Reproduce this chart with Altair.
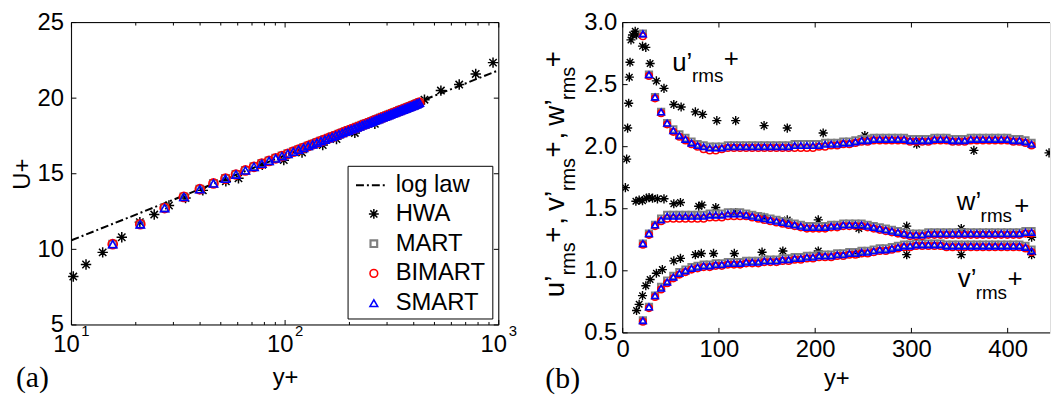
import altair as alt
import pandas as pd

FONT = "Liberation Sans"
SERIF = "Liberation Serif"
STAR = "M-1,0L1,0M0,-1L0,1M-0.71,-0.71L0.71,0.71M-0.71,0.71L0.71,-0.71"

# ---------------- panel (a): mean velocity ----------------
loglaw_yp = [10, 1000]
loglaw_U = [10.6, 21.85]

hwa_yp_a = [10.2, 11.7, 14.0, 17.2, 20.9, 24.4, 28.6, 34.2, 41.2, 52.8, 60.5, 78.2, 98.6,
            120, 150, 174, 212, 263, 449, 536, 653, 780, 940]
hwa_U = [8.2, 9.0, 9.8, 10.8, 11.8, 12.3, 12.9, 13.4, 13.9, 14.5, 14.7, 15.6, 15.9,
         16.4, 16.9, 17.3, 17.7, 18.3, 19.9, 20.5, 20.9, 21.6, 22.35]

piv_yp_b = [21.0, 27.3, 33.6, 39.9, 46.2, 52.6, 58.9, 65.2, 71.5, 77.8, 84.1, 90.4, 96.7,
            103.0, 109.3, 115.6, 122.0, 128.3, 134.6, 140.9, 147.2, 153.5, 159.8, 166.1,
            172.4, 178.7, 185.1, 191.4, 197.7, 204.0, 210.3, 216.6, 222.9, 229.2, 235.5,
            241.8, 248.2, 254.5, 260.8, 267.1, 273.4, 279.7, 286.0, 292.3, 298.6, 304.9,
            311.2, 317.6, 323.9, 330.2, 336.5, 342.8, 349.1, 355.4, 361.7, 368.0, 374.3,
            380.7, 387.0, 393.3, 399.6, 405.9, 412.2, 418.5, 424.8]
piv_yp_a = [15.6] + piv_yp_b
piv_U = [10.34, 11.66, 12.73, 13.47, 13.98, 14.36, 14.68, 14.95, 15.22, 15.46, 15.67, 15.85,
         16.02, 16.17, 16.32, 16.46, 16.59, 16.72, 16.84, 16.95, 17.06, 17.16, 17.26, 17.35,
         17.44, 17.53, 17.62, 17.70, 17.78, 17.86, 17.93, 18.00, 18.07, 18.14, 18.21, 18.27,
         18.33, 18.39, 18.45, 18.51, 18.57, 18.62, 18.68, 18.73, 18.78, 18.83, 18.88, 18.93,
         18.98, 19.03, 19.07, 19.12, 19.16, 19.21, 19.25, 19.29, 19.33, 19.37, 19.41, 19.45,
         19.49, 19.53, 19.57, 19.61, 19.65, 19.70]

# ---------------- panel (b): rms fluctuations ----------------
u_smart = [2.91, 2.58, 2.40, 2.28, 2.19, 2.13, 2.09, 2.06, 2.03, 2.01, 2.00, 1.99, 1.99, 1.99,
           2.00, 2.00, 2.00, 2.00, 2.00, 2.00, 2.00, 2.00, 2.00, 2.00, 2.00, 2.01, 2.01, 2.01,
           2.01, 2.01, 2.02, 2.02, 2.02, 2.03, 2.03, 2.04, 2.05, 2.05, 2.06, 2.06, 2.06, 2.06,
           2.06, 2.06, 2.05, 2.05, 2.05, 2.05, 2.06, 2.06, 2.06, 2.05, 2.05, 2.05, 2.06, 2.06,
           2.06, 2.06, 2.06, 2.06, 2.06, 2.05, 2.05, 2.04, 2.02]
u_mart = [2.91, 2.58, 2.40, 2.28, 2.19, 2.14, 2.10, 2.07, 2.04, 2.02, 2.01, 2.00, 2.00, 2.00,
          2.01, 2.01, 2.01, 2.01, 2.01, 2.01, 2.01, 2.01, 2.01, 2.01, 2.01, 2.02, 2.02, 2.02,
          2.02, 2.02, 2.03, 2.03, 2.03, 2.04, 2.04, 2.05, 2.06, 2.06, 2.07, 2.07, 2.07, 2.07,
          2.07, 2.07, 2.06, 2.06, 2.06, 2.06, 2.07, 2.07, 2.07, 2.06, 2.06, 2.06, 2.07, 2.07,
          2.07, 2.07, 2.07, 2.07, 2.07, 2.06, 2.06, 2.05, 2.03]
u_bimart = [2.89, 2.57, 2.39, 2.27, 2.18, 2.12, 2.08, 2.05, 2.02, 2.00, 1.98, 1.97, 1.97, 1.98,
            1.99, 1.99, 1.99, 1.99, 1.99, 1.99, 1.99, 1.99, 1.99, 1.99, 1.99, 1.99, 1.99, 1.99,
            1.99, 2.00, 2.00, 2.01, 2.01, 2.02, 2.02, 2.03, 2.04, 2.04, 2.05, 2.05, 2.05, 2.05,
            2.05, 2.05, 2.04, 2.04, 2.04, 2.04, 2.05, 2.05, 2.05, 2.04, 2.04, 2.04, 2.05, 2.05,
            2.05, 2.05, 2.05, 2.05, 2.05, 2.04, 2.04, 2.03, 2.01]
w_smart = [1.22, 1.30, 1.37, 1.41, 1.44, 1.44, 1.44, 1.44, 1.44, 1.44, 1.44, 1.45, 1.45, 1.45,
           1.46, 1.46, 1.46, 1.45, 1.44, 1.43, 1.42, 1.41, 1.40, 1.39, 1.38, 1.37, 1.36, 1.35,
           1.35, 1.35, 1.35, 1.36, 1.36, 1.37, 1.37, 1.37, 1.37, 1.36, 1.35, 1.34, 1.33, 1.32,
           1.31, 1.30, 1.29, 1.29, 1.29, 1.30, 1.30, 1.30, 1.30, 1.30, 1.30, 1.30, 1.30, 1.30,
           1.30, 1.30, 1.30, 1.30, 1.30, 1.30, 1.30, 1.31, 1.31]
w_mart = [1.22, 1.30, 1.37, 1.42, 1.45, 1.45, 1.45, 1.45, 1.45, 1.45, 1.45, 1.46, 1.46, 1.46,
          1.47, 1.47, 1.47, 1.46, 1.45, 1.44, 1.43, 1.42, 1.41, 1.40, 1.39, 1.38, 1.37, 1.36,
          1.36, 1.36, 1.36, 1.37, 1.37, 1.38, 1.38, 1.38, 1.38, 1.37, 1.36, 1.35, 1.34, 1.33,
          1.32, 1.31, 1.30, 1.30, 1.30, 1.31, 1.31, 1.31, 1.31, 1.31, 1.31, 1.31, 1.31, 1.31,
          1.31, 1.31, 1.31, 1.31, 1.31, 1.31, 1.31, 1.32, 1.32]
w_bimart = [1.21, 1.29, 1.36, 1.40, 1.42, 1.42, 1.42, 1.42, 1.42, 1.42, 1.42, 1.43, 1.43, 1.43,
            1.44, 1.44, 1.44, 1.44, 1.43, 1.42, 1.41, 1.40, 1.39, 1.38, 1.37, 1.36, 1.35, 1.34,
            1.34, 1.34, 1.34, 1.35, 1.35, 1.36, 1.36, 1.36, 1.36, 1.35, 1.34, 1.33, 1.32, 1.31,
            1.30, 1.29, 1.28, 1.28, 1.28, 1.29, 1.29, 1.29, 1.29, 1.29, 1.29, 1.29, 1.29, 1.29,
            1.29, 1.29, 1.29, 1.29, 1.29, 1.29, 1.29, 1.30, 1.30]
v_smart = [0.60, 0.71, 0.80, 0.86, 0.91, 0.95, 0.98, 1.00, 1.02, 1.03, 1.04, 1.04, 1.05, 1.05,
           1.06, 1.06, 1.06, 1.07, 1.07, 1.07, 1.08, 1.08, 1.08, 1.09, 1.09, 1.10, 1.10, 1.11,
           1.11, 1.12, 1.12, 1.12, 1.13, 1.13, 1.14, 1.14, 1.15, 1.15, 1.16, 1.17, 1.17, 1.18,
           1.19, 1.20, 1.20, 1.21, 1.21, 1.21, 1.21, 1.21, 1.20, 1.20, 1.20, 1.20, 1.20, 1.20,
           1.20, 1.20, 1.20, 1.20, 1.20, 1.20, 1.20, 1.19, 1.16]
v_mart = [0.60, 0.71, 0.80, 0.87, 0.92, 0.96, 0.99, 1.01, 1.03, 1.04, 1.05, 1.05, 1.06, 1.06,
          1.07, 1.07, 1.07, 1.08, 1.08, 1.08, 1.09, 1.09, 1.09, 1.10, 1.10, 1.11, 1.11, 1.12,
          1.12, 1.13, 1.13, 1.13, 1.14, 1.14, 1.15, 1.15, 1.16, 1.16, 1.17, 1.18, 1.18, 1.19,
          1.20, 1.21, 1.21, 1.22, 1.22, 1.22, 1.22, 1.22, 1.21, 1.21, 1.21, 1.21, 1.21, 1.21,
          1.21, 1.21, 1.21, 1.21, 1.21, 1.21, 1.21, 1.20, 1.17]
v_bimart = [0.59, 0.70, 0.79, 0.85, 0.90, 0.94, 0.97, 0.99, 1.01, 1.02, 1.03, 1.03, 1.04, 1.04,
            1.05, 1.05, 1.05, 1.06, 1.06, 1.06, 1.07, 1.07, 1.07, 1.08, 1.08, 1.09, 1.09, 1.10,
            1.10, 1.11, 1.11, 1.11, 1.12, 1.12, 1.13, 1.13, 1.14, 1.14, 1.15, 1.16, 1.16, 1.17,
            1.18, 1.19, 1.19, 1.20, 1.20, 1.20, 1.20, 1.20, 1.19, 1.19, 1.19, 1.19, 1.19, 1.19,
            1.19, 1.19, 1.19, 1.19, 1.19, 1.19, 1.19, 1.18, 1.15]

hwa_u_yp = [2.8, 4.1, 5.1, 6.2, 6.9, 7.6, 8.6, 10.2, 13.0, 14.4, 20.6, 24.0, 28.5, 35.0, 42.9,
            53.1, 60.7, 75.5, 83.0, 97.8, 117.4, 146.9, 171.0, 208.3, 251.6, 305.5, 364.9, 443.0]
hwa_u = [1.67, 1.90, 2.15, 2.35, 2.56, 2.68, 2.86, 2.90, 2.93, 2.90, 2.81, 2.80, 2.67, 2.53, 2.47,
         2.34, 2.32, 2.28, 2.26, 2.21, 2.21, 2.17, 2.15, 2.11, 2.09, 2.02, 1.97, 1.95]
hwa_w_yp = [13.7, 17.1, 20.6, 24.7, 27.4, 31.0, 36.1, 42.9, 53.1, 60.0, 79.0, 82.3, 96.7,
            117.4, 146.9, 171.0, 203.2, 245.4, 295.1, 351.8, 424.9]
hwa_w = [1.56, 1.57, 1.565, 1.585, 1.59, 1.585, 1.58, 1.58, 1.54, 1.55, 1.52, 1.53, 1.51,
         1.47, 1.43, 1.41, 1.41, 1.34, 1.36, 1.34, 1.27]
hwa_v_yp = [14.4, 17.1, 20.6, 24.0, 28.5, 35.0, 41.2, 53.1, 60.0, 75.5, 81.7, 94.4, 116.0,
            144.8, 166.4, 203.2, 245.4, 295.1, 351.8, 424.9]
hwa_v = [0.68, 0.73, 0.80, 0.88, 0.93, 0.98, 1.01, 1.08, 1.10, 1.13, 1.14, 1.14, 1.14,
         1.15, 1.16, 1.16, 1.14, 1.13, 1.13, 1.13]

# ---------------- ticks / labels ----------------
xticks_a = [10, 100, 1000]
xexp_a = ["1", "2", "3"]
xminor_a = [20, 30, 40, 50, 60, 70, 80, 90, 200, 300, 400, 500, 600, 700, 800, 900]
yticks_a = [5, 10, 15, 20, 25]
xticks_b = [0, 100, 200, 300, 400]
yticks_b = [0.5, 1.0, 1.5, 2.0, 2.5, 3.0]
legend_labels = ["log law", "HWA", "MART", "BIMART", "SMART"]

for lst in (u_smart, u_mart, u_bimart, v_smart, v_mart, v_bimart, w_smart, w_mart, w_bimart):
    assert len(lst) == len(piv_yp_b)
assert len(piv_U) == len(piv_yp_a)

# ---------------- layout constants ----------------
W = 431
HA = 305
HB = 313
FS = 24
dummy = pd.DataFrame({"k": [0]})


def ax(**kw):
    base = dict(grid=False, ticks=False, domain=False, labelFont=FONT, labelFontSize=FS,
                labelColor="black", titleFont=FONT, titleFontSize=FS, titleFontWeight="normal",
                titleColor="black", labelFlush=False)
    base.update(kw)
    return alt.Axis(**base)


def txt(s, x, y, size, font=FONT, angle=0, align="left", baseline="alphabetic"):
    return alt.Chart(dummy).mark_text(font=font, fontSize=size, angle=angle, align=align,
                                      baseline=baseline, color="black").encode(
        x=alt.value(x), y=alt.value(y), text=alt.value(s))


def rule(x, x2, y, y2, sw=1, dash=None):
    kw = dict(color="black", strokeWidth=sw)
    if dash is not None:
        kw["strokeDash"] = dash
    return alt.Chart(dummy).mark_rule(**kw).encode(
        x=alt.value(x), x2=alt.value(x2), y=alt.value(y), y2=alt.value(y2))


def pts(df, shape, color, size, sw, x, y, clip=False):
    return alt.Chart(df).mark_point(shape=shape, filled=False, color=color, size=size,
                                    strokeWidth=sw, opacity=1, clip=clip).encode(x=x, y=y)


# =============== panel (a) ===============
xa = alt.X("yp:Q", scale=alt.Scale(type="log", domain=[10, 1000], nice=False),
           axis=ax(labels=False, title="y+", titleY=53, titleBaseline="middle"))
ya = alt.Y("U:Q", scale=alt.Scale(domain=[5, 25], nice=False, zero=False),
           axis=ax(values=yticks_a, format="d", labelPadding=8, title="U+", titleX=-49,
                   titleY=HA / 2, titleAngle=270, titleAlign="center", titleBaseline="middle"))

df_loglaw = pd.DataFrame({"yp": loglaw_yp, "U": loglaw_U})
df_hwa_a = pd.DataFrame({"yp": hwa_yp_a, "U": hwa_U})
df_piv_a = pd.DataFrame({"yp": piv_yp_a, "U": piv_U})
df_xt_a = pd.DataFrame({"yp": xticks_a, "exp": xexp_a})
df_xm_a = pd.DataFrame({"yp": xminor_a})
df_yt_a = pd.DataFrame({"U": yticks_a})

a_layers = [
    alt.Chart(df_loglaw).mark_line(color="black", strokeWidth=2, strokeDash=[8, 3, 2, 3]).encode(x=xa, y=ya),
    pts(df_hwa_a, STAR, "black", 110, 1.5, xa, ya),
    pts(df_piv_a, "square", "#808080", 50, 2, xa, ya),
    pts(df_piv_a, "circle", "red", 85, 1.6, xa, ya),
    pts(df_piv_a, "triangle-up", "blue", 70, 1.6, xa, ya),
    # inward ticks
    alt.Chart(df_xt_a).mark_rule(color="black").encode(x=xa, y=alt.value(HA), y2=alt.value(HA - 5)),
    alt.Chart(df_xt_a).mark_rule(color="black").encode(x=xa, y=alt.value(0), y2=alt.value(5)),
    alt.Chart(df_xm_a).mark_rule(color="black").encode(x=xa, y=alt.value(HA), y2=alt.value(HA - 3)),
    alt.Chart(df_xm_a).mark_rule(color="black").encode(x=xa, y=alt.value(0), y2=alt.value(3)),
    alt.Chart(df_yt_a).mark_rule(color="black").encode(y=ya, x=alt.value(0), x2=alt.value(5)),
    alt.Chart(df_yt_a).mark_rule(color="black").encode(y=ya, x=alt.value(W), x2=alt.value(W - 5)),
    # log-axis labels 10^n
    alt.Chart(df_xt_a).mark_text(font=FONT, fontSize=FS, align="center", baseline="alphabetic", dx=-5,
                                 color="black").encode(x=xa, y=alt.value(HA + 27), text=alt.value("10")),
    alt.Chart(df_xt_a).mark_text(font=FONT, fontSize=15, align="left", baseline="alphabetic", dx=10,
                                 color="black").encode(x=xa, y=alt.value(HA + 11), text="exp:N"),
    # frame
    rule(0, W, 0, 0), rule(0, W, HA, HA), rule(0, 0, 0, HA), rule(W, W, 0, HA),
    # legend
    alt.Chart(dummy).mark_rect(fill="white", stroke="black", strokeWidth=1).encode(
        x=alt.value(279), x2=alt.value(425), y=alt.value(HA - 160), y2=alt.value(HA - 6)),
    rule(287, 317, HA - 141, HA - 141, sw=2, dash=[8, 3, 2, 3]),
    alt.Chart(dummy).mark_point(shape=STAR, filled=False, color="black", size=100, strokeWidth=1.5,
                                opacity=1).encode(x=alt.value(305), y=alt.value(HA - 112)),
    alt.Chart(dummy).mark_point(shape="square", filled=False, color="#808080", size=45, strokeWidth=2.2,
                                opacity=1).encode(x=alt.value(305), y=alt.value(HA - 82)),
    alt.Chart(dummy).mark_point(shape="circle", filled=False, color="red", size=60, strokeWidth=1.6,
                                opacity=1).encode(x=alt.value(305), y=alt.value(HA - 52)),
    alt.Chart(dummy).mark_point(shape="triangle-up", filled=False, color="blue", size=60, strokeWidth=1.6,
                                opacity=1).encode(x=alt.value(305), y=alt.value(HA - 22)),
]
for lab, yy in zip(legend_labels, [141, 112, 82, 52, 22]):
    a_layers.append(txt(lab, 327, HA - yy, 24, baseline="middle"))
a_layers.append(txt("(a)", -56, HA + 63, 30, font=SERIF))

left = alt.layer(*a_layers).properties(width=W, height=HA)

# =============== panel (b) ===============
xb = alt.X("yp:Q", scale=alt.Scale(domain=[0, 444], nice=False, zero=False),
           axis=ax(values=xticks_b, format="d", labelPadding=5, title="y+", titleY=46,
                   titleBaseline="middle"))
yb = alt.Y("val:Q", scale=alt.Scale(domain=[0.5, 3.0], nice=False, zero=False),
           axis=ax(values=yticks_b, format=".1f", labelPadding=6, title=None))


def comp_df(u, v, w):
    return pd.DataFrame({"yp": piv_yp_b * 3, "val": u + v + w})


df_mart = comp_df(u_mart, v_mart, w_mart)
df_bimart = comp_df(u_bimart, v_bimart, w_bimart)
df_smart = comp_df(u_smart, v_smart, w_smart)
df_hwa_b = pd.DataFrame({"yp": hwa_u_yp + hwa_v_yp + hwa_w_yp, "val": hwa_u + hwa_v + hwa_w})
df_xt_b = pd.DataFrame({"yp": xticks_b})
df_yt_b = pd.DataFrame({"val": yticks_b})

b_layers = [
    pts(df_hwa_b, STAR, "black", 85, 1.4, xb, yb, clip=True),
    pts(df_mart, "square", "#808080", 40, 2, xb, yb, clip=True),
    pts(df_bimart, "circle", "red", 45, 1.6, xb, yb, clip=True),
    pts(df_smart, "triangle-up", "blue", 45, 1.6, xb, yb, clip=True),
    alt.Chart(df_xt_b).mark_rule(color="black").encode(x=xb, y=alt.value(HB), y2=alt.value(HB - 5)),
    alt.Chart(df_xt_b).mark_rule(color="black").encode(x=xb, y=alt.value(0), y2=alt.value(5)),
    alt.Chart(df_yt_b).mark_rule(color="black").encode(y=yb, x=alt.value(0), x2=alt.value(5)),
    rule(0, W, 0, 0), rule(0, W, HB, HB), rule(0, 0, 0, HB),
    # in-plot annotations
    txt("u’", 50, 49, 26), txt("rms", 70, 60, 19), txt("+", 102, 45, 26),
    txt("w’", 337, 189, 26), txt("rms", 361, 201, 19), txt("+", 395, 193, 26),
    txt("v’", 338, 267, 26), txt("rms", 356, 279, 19), txt("+", 388, 267, 26),
    # rotated y title
    txt("u’", -59, 277, 28, angle=270), txt("rms", -48, 255, 20, angle=270),
    txt("+", -61, 222, 28, angle=270), txt(",", -59, 204, 28, angle=270),
    txt("v’", -59, 190, 28, angle=270), txt("rms", -48, 170, 20, angle=270),
    txt("+", -61, 136, 28, angle=270), txt(",", -59, 118, 28, angle=270),
    txt("w’", -59, 104, 28, angle=270), txt("rms", -48, 78, 20, angle=270),
    txt("+", -61, 45, 28, angle=270),
    txt("(b)", -78, HB + 56, 30, font=SERIF),
]

right = alt.layer(*b_layers).properties(width=W, height=HB)

chart = alt.hconcat(left, right, spacing=125, bounds="flush").properties(
    padding={"left": 2, "top": 0, "right": 0, "bottom": 0}
).configure_view(stroke=None).configure(font=FONT)

chart.save("out.html", embed_options={"renderer": "svg", "actions": False})
